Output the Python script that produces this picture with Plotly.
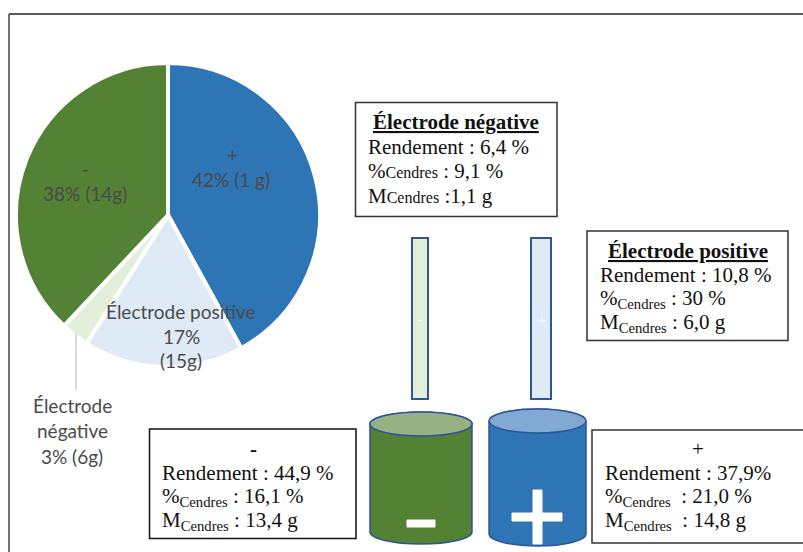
import plotly.graph_objects as go

W, H = 803, 552

# ---- data -------------------------------------------------------------
slice_names = ["+", "Électrode positive", "Électrode négative", "-"]
slice_shares = [42, 17, 3, 38]
slice_masses = ["1 g", "15g", "6g", "14g"]
slice_colors = ["#2E75B6", "#DEEAF6", "#E2EFD9", "#548235"]

box_neg_title = "Électrode négative"
box_neg_rendement = "Rendement : 6,4 %"
box_neg_cendres = ": 9,1 %"
box_neg_masse = ":1,1 g"

box_pos_title = "Électrode positive"
box_pos_rendement = "Rendement : 10,8 %"
box_pos_cendres = ": 30 %"
box_pos_masse = ": 6,0 g"

box_minus_title = "-"
box_minus_rendement = "Rendement : 44,9 %"
box_minus_cendres = " : 16,1 %"
box_minus_masse = " : 13,4 g"

box_plus_title = "+"
box_plus_rendement = "Rendement : 37,9%"
box_plus_cendres = "  : 21,0 %"
box_plus_masse = "  : 14,8 g"

SANS = "Lato"
SERIF = "Liberation Serif"
LABEL = "#4a4a4a"
OUT = "#2F5597"

fig = go.Figure()
fig.add_trace(go.Pie(
    labels=slice_names, values=slice_shares, sort=False, direction="clockwise",
    rotation=0, marker=dict(colors=slice_colors, line=dict(color="white", width=4)),
    textinfo="none", hoverinfo="label+percent", showlegend=False,
    domain=dict(x=[16 / W, 320 / W], y=[1 - 367 / H, 1 - 63 / H]),
))

shapes = []
def rect(x0, y0, x1, y1, fill="rgba(0,0,0,0)", line="#333333", lw=1.5):
    shapes.append(dict(type="rect", xref="x", yref="y", x0=x0, y0=y0, x1=x1, y1=y1,
                       fillcolor=fill, line=dict(color=line, width=lw)))
def seg(x0, y0, x1, y1, color, lw):
    shapes.append(dict(type="line", xref="x", yref="y", x0=x0, y0=y0, x1=x1, y1=y1,
                       line=dict(color=color, width=lw)))
def cylinder(x0, x1, ytop, yell, ybot, body, top):
    k = 0.5523
    cx, rx = (x0 + x1) / 2, (x1 - x0) / 2
    ry = (yell - ytop) / 2
    ym = ytop + ry
    d = (f"M{x0},{ym} L{x0},{ybot - ry} C{x0},{ybot - ry + k * ry} {cx - k * rx},{ybot} {cx},{ybot} "
         f"C{cx + k * rx},{ybot} {x1},{ybot - ry + k * ry} {x1},{ybot - ry} L{x1},{ym} "
         f"C{x1},{ym - k * ry} {cx + k * rx},{ytop} {cx},{ytop} C{cx - k * rx},{ytop} {x0},{ym - k * ry} {x0},{ym} Z")
    shapes.append(dict(type="path", xref="x", yref="y", path=d, fillcolor=body,
                       line=dict(color=OUT, width=1.5)))
    shapes.append(dict(type="circle", xref="x", yref="y", x0=x0, x1=x1, y0=ytop, y1=yell,
                       fillcolor=top, line=dict(color=OUT, width=1.5)))

# frame
seg(9, 14, 803, 14, "#222222", 1.5)
seg(9, 14, 9, 552, "#444444", 1.5)
# leader line
seg(76, 333, 76, 390, "#b5b5b5", 1)
# info boxes
rect(355.5, 102.5, 557, 216.5)
rect(587, 231, 788, 340.5)
rect(149.5, 429, 356, 538.5, line="#111111")
rect(592, 430, 806, 543)
# electrodes
rect(412, 238, 428, 399, fill="#E2EFD9", line=OUT, lw=2)
rect(531, 238, 551, 399, fill="#DEEAF6", line=OUT, lw=2)
# cylinders
cylinder(370, 472, 412, 436, 544, "#548235", "#98B184")
cylinder(489, 586, 409, 433, 546, "#2E75B6", "#82A9D3")
# big signs
rect(407, 520, 435, 527, fill="white", line="white", lw=1)
rect(512, 513, 562, 521, fill="white", line="white", lw=1)
rect(533, 490, 542, 544, fill="white", line="white", lw=1)

ann = []
def text(x, y, s, font=SANS, size=19, color=LABEL, anchor="center"):
    ann.append(dict(xref="x", yref="y", x=x, y=y, text=s, showarrow=False, xanchor=anchor,
                    yanchor="middle", align=anchor, font=dict(family=font, size=size, color=color)))

# pie labels
text(232, 154, slice_names[0])
text(231, 179, f"{slice_shares[0]}% ({slice_masses[0]})")
text(85, 168, slice_names[3])
text(85, 193, f"{slice_shares[3]}% ({slice_masses[3]})")
text(181, 311, slice_names[1])
text(181, 336, f"{slice_shares[1]}%")
text(181, 360, f"({slice_masses[1]})")
text(72, 405, slice_names[2].split()[0])
text(72, 430, slice_names[2].split()[1])
text(72, 456, f"{slice_shares[2]}% ({slice_masses[2]})")

# boxes text
BLK = "#111111"
def serif(x, y, s, anchor="left", size=21):
    text(x, y, s, font=SERIF, size=size, color=BLK, anchor=anchor)

small = lambda s: f'<span style="font-size:16px">{s}</span>'
sub = lambda s: f'<sub>{s}</sub>'

serif(456, 122, f"<b><u>{box_neg_title}</u></b>", "center")
serif(366, 147, box_neg_rendement)
serif(366, 171, "%" + small("Cendres") + " " + box_neg_cendres)
serif(366, 196, "M" + small("Cendres") + " " + box_neg_masse)

serif(688, 251, f"<b><u>{box_pos_title}</u></b>", "center")
serif(598, 275, box_pos_rendement)
serif(598, 299, "%" + sub("Cendres") + " " + box_pos_cendres)
serif(598, 323, "M" + sub("Cendres") + " " + box_pos_masse)

serif(253, 449, f"<b>{box_minus_title}</b>", "center")
serif(160, 473, box_minus_rendement)
serif(160, 497, "%" + sub("Cendres") + box_minus_cendres)
serif(160, 521, "M" + sub("Cendres") + box_minus_masse)

serif(698, 449, box_plus_title, "center")
serif(603, 473, box_plus_rendement)
serif(603, 497, "%" + sub("Cendres") + box_plus_cendres)
serif(603, 521, "M" + sub("Cendres") + box_plus_masse)

# small signs on electrodes
text(420, 320, "-", font=SANS, size=13, color="white")
text(542, 320, "+", font=SANS, size=13, color="white")

fig.update_layout(
    width=W, height=H, autosize=False,
    margin=dict(l=0, r=0, t=0, b=0),
    paper_bgcolor="white", plot_bgcolor="rgba(0,0,0,0)",
    xaxis=dict(range=[0, W], visible=False, fixedrange=True),
    yaxis=dict(range=[H, 0], visible=False, fixedrange=True),
    shapes=shapes, annotations=ann,
)
fig.write_html("out.html", config={"displayModeBar": False},
               post_script="document.body.style.margin='0';document.body.style.overflow='hidden';")
